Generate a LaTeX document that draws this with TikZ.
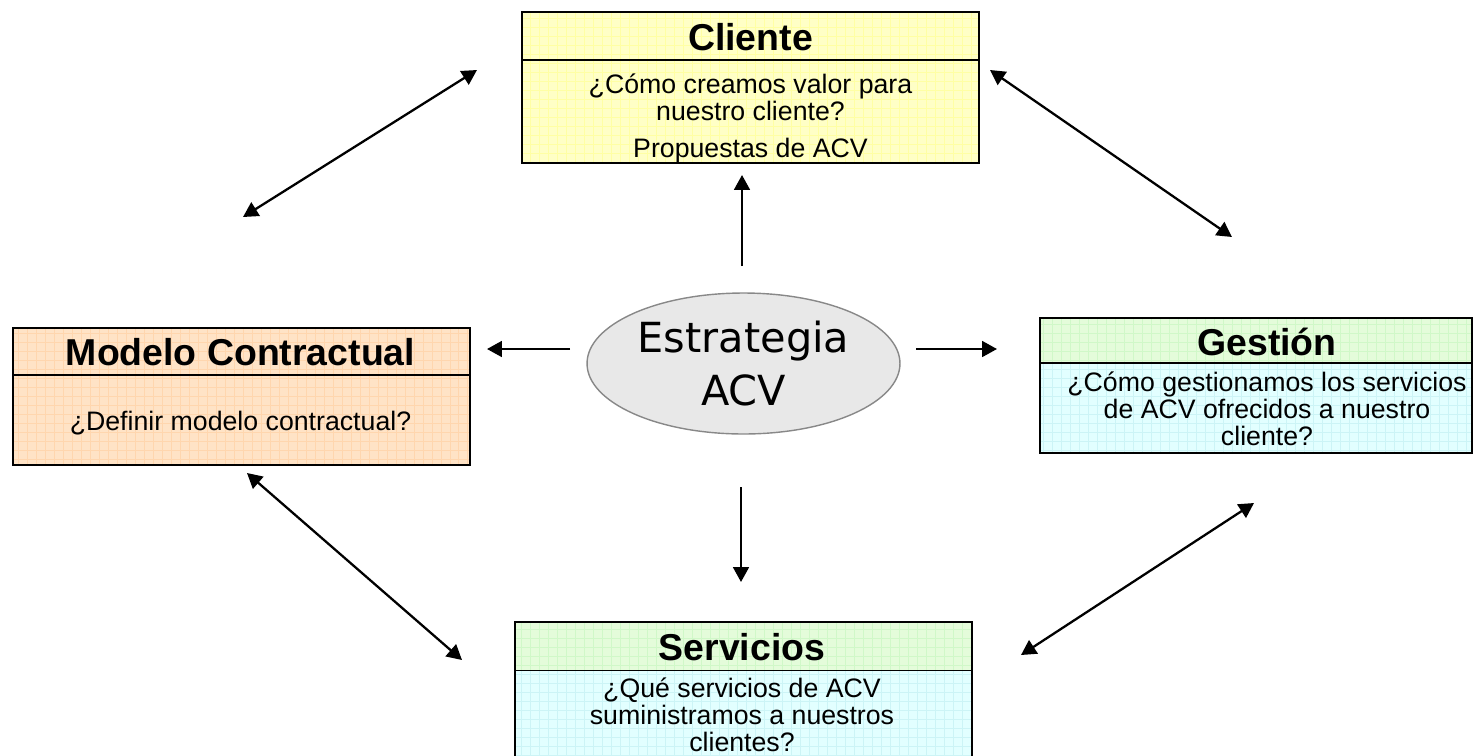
\documentclass[tikz,border=0pt]{standalone}
\usepackage{fontspec}
\setmainfont{Liberation Sans}
\newfontfamily\ellipsefont{DejaVu Sans}
\usetikzlibrary{shapes.geometric,arrows.meta}
\definecolor{cliYellow}{HTML}{FFFFC6}
\definecolor{cliYellowGrid}{HTML}{FFFFA4}
\definecolor{modPeach}{HTML}{FFE3C6}
\definecolor{modPeachGrid}{HTML}{FFD6AE}
\definecolor{srvGreen}{HTML}{E4FCDA}
\definecolor{srvGreenGrid}{HTML}{D0F8C8}
\definecolor{srvCyan}{HTML}{E2FFFF}
\definecolor{srvCyanGrid}{HTML}{CCF4F6}
\definecolor{ellGray}{HTML}{E8E8E8}
\definecolor{ellLine}{HTML}{888888}
\tikzset{
    boxframe/.style={draw, line width=1.1pt, inner sep=0pt},
    boxtitle/.style={font=\fontsize{21.3}{24}\selectfont\bfseries, inner sep=0pt, anchor=base},
    boxtext/.style={font=\fontsize{15.2}{15.4}\selectfont, align=center, inner sep=0pt},
    gridlines/.style={line width=0.45pt, step=0.18cm},
    conn/.style={line width=1.3pt, -{Triangle[length=8.5pt,width=9pt]}},
    dconn/.style={line width=1.3pt, {Triangle[length=8.5pt,width=9pt]}-{Triangle[length=8.5pt,width=9pt]}},
}

\begin{document}
\begin{tikzpicture}[x=0.02cm, y=-0.02cm]
\useasboundingbox (0,0) rectangle (1474,755);
\clip (0,0) rectangle (1474,755);

% fills with faint grid
\begin{scope}
\clip (522,12) rectangle (979,163);
\fill[cliYellow] (522,12) rectangle (979,163);
\draw[cliYellowGrid, gridlines] (522,163) grid (979,12);
\end{scope}
\begin{scope}
\clip (13,328) rectangle (470,465);
\fill[modPeach] (13,328) rectangle (470,465);
\draw[modPeachGrid, gridlines] (13,465) grid (470,328);
\end{scope}
\begin{scope}
\clip (1040,318) rectangle (1472,363);
\fill[srvGreen] (1040,318) rectangle (1472,363);
\draw[srvGreenGrid, gridlines] (1040,363) grid (1472,318);
\end{scope}
\begin{scope}
\clip (1040,363) rectangle (1472,453);
\fill[srvCyan] (1040,363) rectangle (1472,453);
\draw[srvCyanGrid, gridlines] (1040,453) grid (1472,363);
\end{scope}
\begin{scope}
\clip (515,622) rectangle (972,670.5);
\fill[srvGreen] (515,622) rectangle (972,670.5);
\draw[srvGreenGrid, gridlines] (515,670.5) grid (972,622);
\end{scope}
\begin{scope}
\clip (515,670.5) rectangle (972,775);
\fill[srvCyan] (515,670.5) rectangle (972,775);
\draw[srvCyanGrid, gridlines] (515,775) grid (972,670.5);
\end{scope}

% box frames
\node[boxframe, minimum width=9.14cm, minimum height=3.02cm] (cli) at (750.5,87.5) {};
\node[boxframe, minimum width=9.14cm, minimum height=2.74cm] (mod) at (241.5,396.5) {};
\node[boxframe, minimum width=8.64cm, minimum height=2.7cm] (ges) at (1256,385.5) {};
\node[boxframe, minimum width=9.14cm, minimum height=3.06cm] (srv) at (743.5,698.5) {};
\draw[line width=1.1pt] (522,60) -- (979,60);
\draw[line width=1.1pt] (13,375) -- (470,375);
\draw[line width=1.1pt] (1040,363) -- (1472,363);
\draw[line width=1.1pt] (515,670.5) -- (972,670.5);

% texts
\node[boxtitle] (cliTitle) at (750.5,50) {Cliente};
\node[boxtext] (cliText) at (750.5,118.5) {¿Cómo creamos valor para\\nuestro cliente?\\[6pt]Propuestas de ACV};
\node[boxtitle] (modTitle) at (240.5,365) {Modelo Contractual};
\node[boxtext] (modText) at (240.5,423) {¿Definir modelo contractual?};
\node[boxtitle] (gesTitle) at (1267,355) {Gestión};
\node[boxtext] (gesText) at (1267,409) {¿Cómo gestionamos los servicios\\de ACV ofrecidos a nuestro\\cliente?};
\node[boxtitle] (srvTitle) at (742,660) {Servicios};
\node[boxtext] (srvText) at (742,715) {¿Qué servicios de ACV\\suministramos a nuestros\\clientes?};

% centre
\node[ellipse, draw=ellLine, line width=0.8pt, fill=ellGray, minimum width=6.26cm, minimum height=2.82cm,
      inner sep=0pt, align=center, font=\ellipsefont\fontsize{23.6}{30}\selectfont] (acv) at (743.5,363.5) {Estrategia\\ACV};

% arrow ends
\coordinate (upTail) at (742,266);
\coordinate (upTip) at (742,175);
\coordinate (leftTail) at (570,349);
\coordinate (leftTip) at (487,349);
\coordinate (rightTail) at (916,349);
\coordinate (rightTip) at (997,349);
\coordinate (downTail) at (741,487);
\coordinate (downTip) at (741,582);
\coordinate (nwA) at (243,217);
\coordinate (nwB) at (477,70);
\coordinate (neA) at (990,70);
\coordinate (neB) at (1232,237);
\coordinate (swA) at (247,473);
\coordinate (swB) at (462,660);
\coordinate (seA) at (1021,655);
\coordinate (seB) at (1254,503);

\draw[conn] (upTail) -- (upTip);
\draw[conn] (leftTail) -- (leftTip);
\draw[conn] (rightTail) -- (rightTip);
\draw[conn] (downTail) -- (downTip);
\draw[dconn] (nwA) -- (nwB);
\draw[dconn] (neA) -- (neB);
\draw[dconn] (swA) -- (swB);
\draw[dconn] (seA) -- (seB);
\end{tikzpicture}
\end{document}
